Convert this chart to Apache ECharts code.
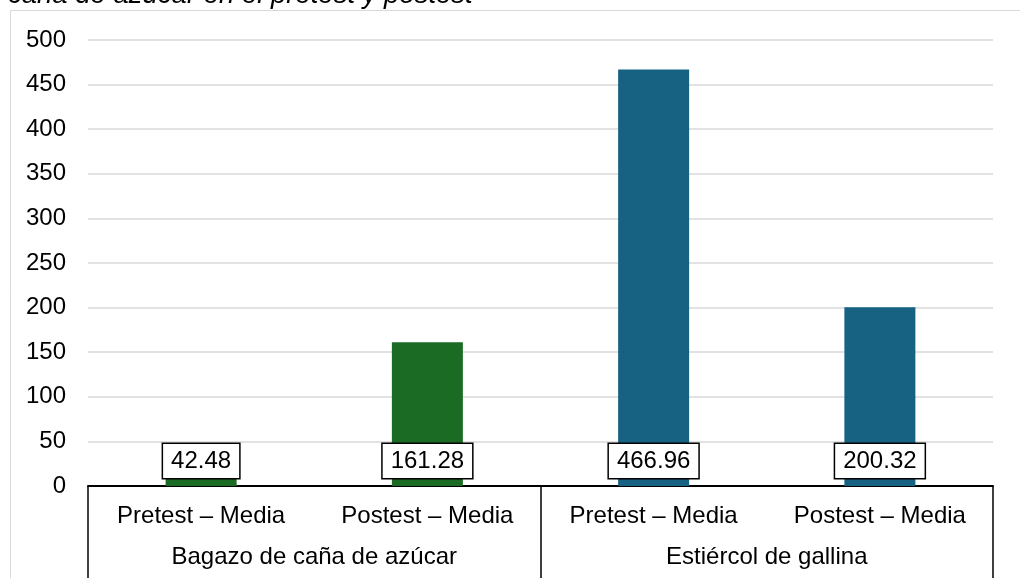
<!DOCTYPE html>
<html><head><meta charset="utf-8">
<script src="https://cdn.jsdelivr.net/npm/echarts@6/dist/echarts.min.js"></script>
<style>html,body{margin:0;padding:0;background:#fff}#c{width:1020px;height:578px}</style>
</head><body><div id="c"></div>
<script>
const categories = ['Pretest – Media', 'Postest – Media', 'Pretest – Media', 'Postest – Media'];
const groups = ['Bagazo de caña de azúcar', 'Estiércol de gallina'];
const values = [42.48, 161.28, 466.96, 200.32];
const barColors = ['#1b6b24', '#1b6b24', '#176182', '#176182'];
const titleText = 'caña de azúcar en el pretest y postest';

const FONT = 'Liberation Sans, Arial, sans-serif';
const chart = echarts.init(document.getElementById('c'), null, {renderer: 'canvas'});
chart.setOption({
  animation: false,
  backgroundColor: '#fff',
  grid: {left: 88, right: 27, top: 40, bottom: 92, containLabel: false},
  graphic: [
    {type: 'rect', shape: {x: 10.5, y: 10.5, width: 1100, height: 700}, style: {fill: 'none', stroke: '#d9d9d9', lineWidth: 1}, z: -1},
    {type: 'text', left: 8, top: -18, style: {text: titleText, font: 'italic 27.5px ' + FONT, fill: '#000'}}
  ],
  xAxis: [
    {type: 'category', data: categories, position: 'bottom',
     axisLine: {show: true, lineStyle: {color: '#000', width: 2}},
     axisTick: {show: false},
     axisLabel: {fontSize: 24, fontFamily: FONT, color: '#000', margin: 18, interval: 0}},
    {type: 'category', data: groups, position: 'bottom', offset: 0,
     axisLine: {show: false},
     axisTick: {show: true, length: 92, lineStyle: {color: '#000', width: 1.5}},
     axisLabel: {fontSize: 24, fontFamily: FONT, color: '#000', margin: 59, interval: 0}}
  ],
  yAxis: {type: 'value', min: 0, max: 500, interval: 50,
    axisLine: {show: false}, axisTick: {show: false},
    axisLabel: {fontSize: 24, fontFamily: FONT, color: '#000', margin: 22},
    splitLine: {lineStyle: {color: '#d9d9d9', width: 1.5}}},
  series: [{
    type: 'bar', xAxisIndex: 0, barWidth: 71,
    data: values.map((v, i) => ({value: v, itemStyle: {color: barColors[i]}})),
    label: {show: true, position: 'insideBottom', distance: 8,
      formatter: p => p.value.toFixed(2),
      fontSize: 24, fontFamily: FONT, color: '#000',
      backgroundColor: '#fff', borderColor: '#000', borderWidth: 1.5,
      padding: [5, 8, 5, 8]}
  }]
});
</script></body></html>
